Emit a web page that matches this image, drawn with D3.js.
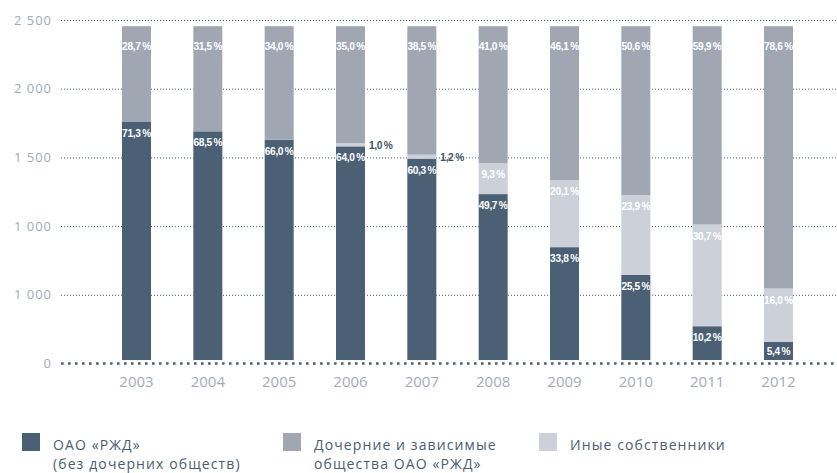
<!DOCTYPE html>
<html>
<head>
<meta charset="utf-8">
<script src="https://cdn.jsdelivr.net/npm/d3@7/dist/d3.min.js"></script>
<style>
  html, body { margin: 0; padding: 0; background: #ffffff; }
  svg { display: block; }
</style>
</head>
<body>
<svg id="chart" width="837" height="473"></svg>
<script>
// Ownership shares of the fleet, % per year
const years = ["2003", "2004", "2005", "2006", "2007", "2008", "2009", "2010", "2011", "2012"];
const rzdShare    = [71.3, 68.5, 66.0, 64.0, 60.3, 49.7, 33.8, 25.5, 10.2, 5.4];
const otherShare  = [0, 0, 0, 1.0, 1.2, 9.3, 20.1, 23.9, 30.7, 16.0];
const subsShare   = [28.7, 31.5, 34.0, 35.0, 38.5, 41.0, 46.1, 50.6, 59.9, 78.6];

// Axis
const yTickValues = [0, 500, 1000, 1500, 2000, 2500];
const yTickLabels = ["0", "1 000", "1 000", "1 500", "2 000", "2 500"];

const legendLines = {
  rzd: ["ОАО «РЖД»", "(без дочерних обществ)"],
  subs: ["Дочерние и зависимые", "общества ОАО «РЖД»"],
  other: ["Иные собственники"]
};
const seriesKeys = ["rzd", "other", "subs"];
const colors = { rzd: "#4b6075", subs: "#a0a7b3", other: "#cbd0d9" };

const svg = d3.select("#chart");
const fontSans = "'Open Sans', 'Noto Sans', sans-serif";
const fontLabel = "'Liberation Sans', Arial, sans-serif";

const y = d3.scaleLinear().domain([0, 2500]).range([363.5, 20]);
const x = d3.scalePoint().domain(years).range([136.5, 778.5]);
const barW = 29;

// Bars are 100% stacks, drawn on their own percentage scale
const pct = d3.scaleLinear().domain([0, 100]).range([y(0) - 3.5, y(2455)]);

// Grid lines (dotted)
const grid = svg.append("g");
yTickValues.filter(v => v !== 0).forEach(v => {
  grid.append("line")
    .attr("x1", 61).attr("x2", 837)
    .attr("y1", y(v) + 0.5).attr("y2", y(v) + 0.5)
    .attr("stroke", "#4b6075").attr("stroke-width", 1)
    .attr("stroke-dasharray", "1,2");
});

// Y labels
svg.append("g").selectAll("text")
  .data(yTickValues)
  .join("text")
  .attr("x", 52).attr("y", d => y(d) + 4.5)
  .attr("text-anchor", "end")
  .attr("font-family", fontSans).attr("font-size", 13)
  .attr("letter-spacing", 1)
  .attr("fill", "#a3abb9")
  .text((d, i) => yTickLabels[i]);

// Stacked data
const rows = years.map((yr, i) => ({ year: yr, rzd: rzdShare[i], other: otherShare[i], subs: subsShare[i] }));
const layers = d3.stack().keys(seriesKeys).offset(d3.stackOffsetExpand)(rows);

const barsG = svg.append("g");
layers.forEach(layer => {
  barsG.append("g").attr("fill", colors[layer.key])
    .selectAll("rect")
    .data(layer)
    .join("rect")
    .attr("x", d => x(d.data.year) - barW / 2)
    .attr("width", barW)
    .attr("y", d => pct(d[1] * 100))
    .attr("height", d => pct(d[0] * 100) - pct(d[1] * 100));
});

// Baseline
svg.append("line")
  .attr("x1", 61).attr("x2", 835)
  .attr("y1", y(0)).attr("y2", y(0))
  .attr("stroke", "#4b6075").attr("stroke-width", 2.6)
  .attr("stroke-dasharray", "2.6,4.4");

// Value labels
const fmt = v => d3.format(".1f")(v).replace(".", ",") + "\u2009%";
const labelsG = svg.append("g")
  .attr("font-family", fontLabel).attr("font-weight", "bold").attr("font-size", 10.2)
  .attr("letter-spacing", -0.35);
layers.forEach(layer => {
  layer.forEach(d => {
    const v = d.data[layer.key];
    if (!v) return;
    const top = pct(d[1] * 100), bottom = pct(d[0] * 100);
    const h = bottom - top;
    const cx = x(d.data.year);
    if (layer.key === "other" && v < 5) {
      labelsG.append("text")
        .attr("x", cx + barW / 2 + 4).attr("y", (top + bottom) / 2 + 4)
        .attr("fill", "#3f5266")
        .text(fmt(v));
    } else {
      const off = layer.key === "subs" ? 24 : Math.min(15, h / 2 + 4);
      labelsG.append("text")
        .attr("x", cx).attr("y", top + off)
        .attr("text-anchor", "middle")
        .attr("fill", "#ffffff")
        .text(fmt(v));
    }
  });
});

// Year labels
svg.append("g").selectAll("text")
  .data(years)
  .join("text")
  .attr("x", d => x(d)).attr("y", 387)
  .attr("text-anchor", "middle")
  .attr("font-family", fontSans).attr("font-size", 15)
  .attr("fill", "#a3abb9")
  .text(d => d);

// Legend
const legendX = [22, 283, 539];
const legendOrder = ["rzd", "subs", "other"];
const legend = svg.append("g");
legendOrder.forEach((k, i) => {
  const g = legend.append("g").attr("transform", `translate(${legendX[i]},433)`);
  g.append("rect").attr("width", 18).attr("height", 18).attr("fill", colors[k]);
  legendLines[k].forEach((line, j) => {
    g.append("text")
      .attr("x", 31).attr("y", 16.5 + j * 19.5)
      .attr("font-family", fontSans).attr("font-size", 14)
      .attr("letter-spacing", 1.1)
      .attr("fill", "#4b5d70")
      .text(line);
  });
});
</script>
</body>
</html>
